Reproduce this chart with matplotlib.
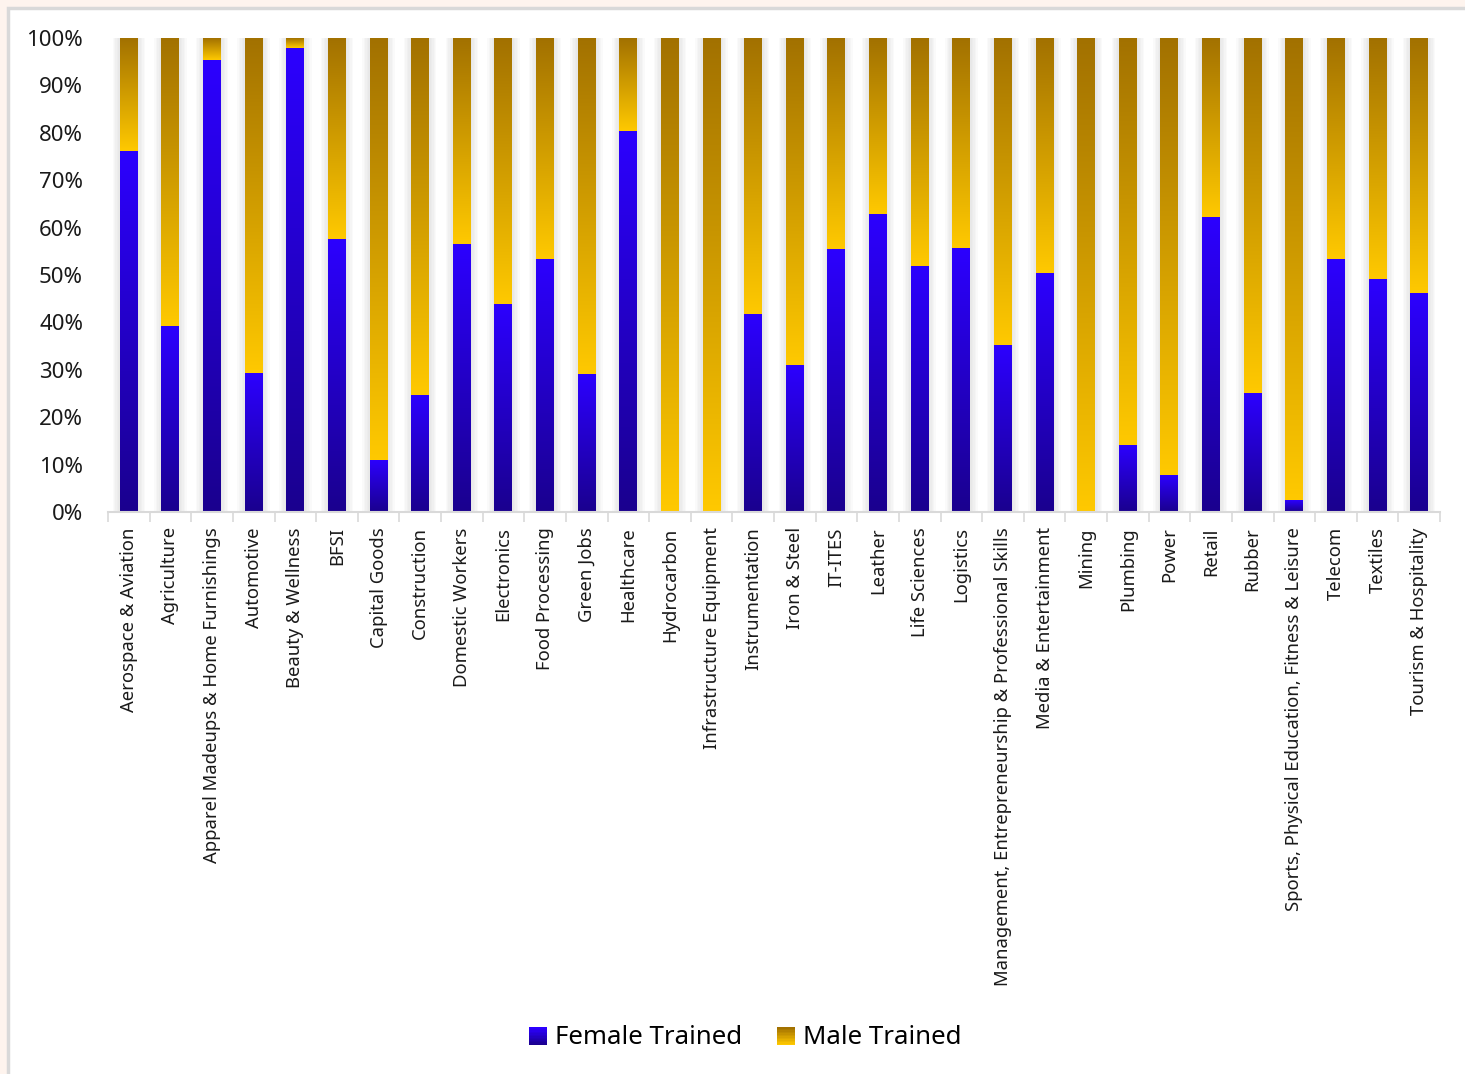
import matplotlib.pyplot as plt
import numpy as np
from matplotlib.colors import LinearSegmentedColormap
from matplotlib.patches import Rectangle
from matplotlib.legend_handler import HandlerBase

# ---- data (share of trainees, %) ----
sectors = [
    'Aerospace & Aviation', 'Agriculture', 'Apparel Madeups & Home Furnishings',
    'Automotive', 'Beauty & Wellness', 'BFSI', 'Capital Goods', 'Construction',
    'Domestic Workers', 'Electronics', 'Food Processing', 'Green Jobs',
    'Healthcare', 'Hydrocarbon', 'Infrastructure Equipment', 'Instrumentation',
    'Iron & Steel', 'IT-ITES', 'Leather', 'Life Sciences', 'Logistics',
    'Management, Entrepreneurship & Professional Skills', 'Media & Entertainment',
    'Mining', 'Plumbing', 'Power', 'Retail', 'Rubber',
    'Sports, Physical Education, Fitness & Leisure', 'Telecom', 'Textiles',
    'Tourism & Hospitality',
]
female_pct = [76.2, 39.2, 95.4, 29.3, 97.9, 57.6, 11.0, 24.7, 56.5, 43.9, 53.4,
              29.1, 80.4, 0.2, 0.2, 41.8, 31.0, 55.5, 62.9, 51.9, 55.7, 35.2,
              50.4, 0.1, 14.1, 7.8, 62.2, 25.1, 2.5, 53.4, 49.2, 46.2]
male_pct = [100 - f for f in female_pct]

plt.rcParams['font.family'] = ['Noto Sans', 'DejaVu Sans']

female_cmap = LinearSegmentedColormap.from_list('fem', ['#1A008E', '#2C00FF'])
male_cmap = LinearSegmentedColormap.from_list('male', ['#FFC900', '#A27100'])
grad = np.linspace(0, 1, 256).reshape(-1, 1)

fig = plt.figure(figsize=(14.65, 10.74), dpi=100, facecolor='#FEF4EE')
# white chart area with grey frame
fig.patches.append(Rectangle((8 / 1465, -0.05), 1.2, 1 - 8 / 1074 + 0.05,
                             transform=fig.transFigure, facecolor='white',
                             edgecolor='#D9D9D9', linewidth=2.5, zorder=-1))

ax = fig.add_axes([108 / 1465, 1 - 512 / 1074, 1332 / 1465, 474 / 1074])
ax.set_facecolor('none')

n = len(sectors)
x = np.arange(n)
w = 0.43
ax.set_xlim(-0.5, n - 0.5)
ax.set_ylim(0, 100)

for i in range(n):
    # soft shadow
    for k in range(1, 6):
        ax.add_patch(Rectangle((x[i] - w / 2 - 0.035 * k, 0), w + 0.07 * k, 100,
                               facecolor='#808080', alpha=0.035, linewidth=0, zorder=1))
    f = female_pct[i]
    if f > 0:
        ax.imshow(grad, cmap=female_cmap, origin='lower', aspect='auto',
                  extent=(x[i] - w / 2, x[i] + w / 2, 0, f), zorder=2,
                  interpolation='bilinear')
    ax.imshow(grad, cmap=male_cmap, origin='lower', aspect='auto',
              extent=(x[i] - w / 2, x[i] + w / 2, f, 100), zorder=2,
              interpolation='bilinear')

ax.set_xlim(-0.5, n - 0.5)
ax.set_ylim(0, 100)

ax.set_yticks(range(0, 101, 10))
ax.set_yticklabels([f'{v}%' for v in range(0, 101, 10)], fontsize=16, color='#1a1a1a')
ax.tick_params(axis='y', length=0, pad=18)

ax.set_xticks(x)
ax.set_xticklabels(sectors, rotation=90, fontsize=13.3, color='#1a1a1a')
ax.tick_params(axis='x', length=0, pad=11)
ax.set_xticks(np.arange(-0.5, n, 1), minor=True)
ax.tick_params(axis='x', which='minor', length=7, width=1.2, color='#D9D9D9')

for s in ['top', 'right', 'left']:
    ax.spines[s].set_visible(False)
ax.spines['bottom'].set_color('#D9D9D9')
ax.spines['bottom'].set_linewidth(1.5)
ax.spines['bottom'].set_zorder(3)


class GradientHandler(HandlerBase):
    def __init__(self, cmap):
        super().__init__()
        self.cmap = cmap

    def create_artists(self, legend, orig_handle, xdescent, ydescent,
                       width, height, fontsize, trans):
        size = height * 1.0
        x0 = xdescent + (width - size) / 2
        arts = []
        steps = 12
        for j in range(steps):
            arts.append(Rectangle((x0, -ydescent + size * j / steps - size * 0.05),
                                  size, size / steps + 0.2,
                                  facecolor=self.cmap(j / (steps - 1)),
                                  linewidth=0, transform=trans))
        return arts


h_f = Rectangle((0, 0), 1, 1)
h_m = Rectangle((0, 0), 1, 1)
fig.legend([h_f, h_m], ['Female Trained', 'Male Trained'],
           handler_map={h_f: GradientHandler(female_cmap), h_m: GradientHandler(male_cmap)},
           loc='center', bbox_to_anchor=(745 / 1465, 1 - 1038 / 1074), ncol=2,
           frameon=False, fontsize=18.6, handlelength=0.7, handleheight=0.7,
           handletextpad=0.3, columnspacing=1.35)

plt.savefig('out.png', dpi=100, facecolor=fig.get_facecolor())
